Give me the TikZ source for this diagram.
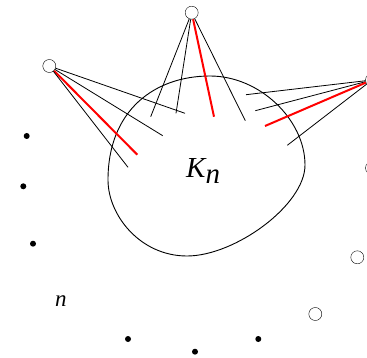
\documentclass[tikz,border=0pt]{standalone}
\usepackage{fontspec}
\setmainfont{Liberation Serif}
\definecolor{edgered}{HTML}{FF0000}
\begin{document}
\begin{tikzpicture}[x=1pt,y=-1pt,vtx/.style={circle,draw,fill=white,inner sep=0pt,minimum size=13pt},dot/.style={circle,fill,inner sep=0pt,minimum size=6pt},edge/.style={line width=.8pt},hot/.style={edgered,line width=2pt}]
\useasboundingbox (0,0) rectangle (367,358);
\clip (0,0) rectangle (367,358);
\draw[line width=.9pt] (210,76) .. controls (260,76) and (305,120) .. (305,165) .. controls (305,205) and (235,256) .. (187,256) .. controls (140,256) and (108,215) .. (108,180) .. controls (108,110) and (155,76) .. cycle;
\node[font=\fontsize{29}{30}\selectfont\itshape,anchor=base west,inner sep=0pt] (K) at (186,177.3) {K\raisebox{-6pt}{n}};
\node[font=\fontsize{23}{24}\selectfont\itshape,anchor=base west,inner sep=0pt] (nlab) at (55,306.7) {n};
\node[vtx] (T) at (191.7,12.7) {};\node[vtx] (L) at (49.3,66) {};\node[vtx] (R) at (372,80) {};
\node[vtx] (R2) at (372,168) {};\node[vtx] (B1) at (357.3,257.3) {};\node[vtx] (B2) at (315.3,314) {};
\foreach \x/\y [count=\i] in {26.7/136,23.3/186.3,33/243.7,128/339,195/351.7,258.3/339}{\node[dot] (d\i) at (\x,\y) {};}
\foreach \s/\x/\y/\st [count=\i] in {T/150.7/116.7/edge,T/176/113.3/edge,T/214/116.7/hot,T/245.3/120.7/edge,L/185/113.3/edge,L/162.7/135.7/edge,L/137.3/154.7/hot,L/128/167.3/edge,R/246/94.7/edge,R/255.3/110.7/edge,R/265/126/hot,R/287.3/145.3/edge}{\coordinate (e\i) at (\x,\y);\draw[\st] (\s)--(e\i);}
\end{tikzpicture}
\end{document}
